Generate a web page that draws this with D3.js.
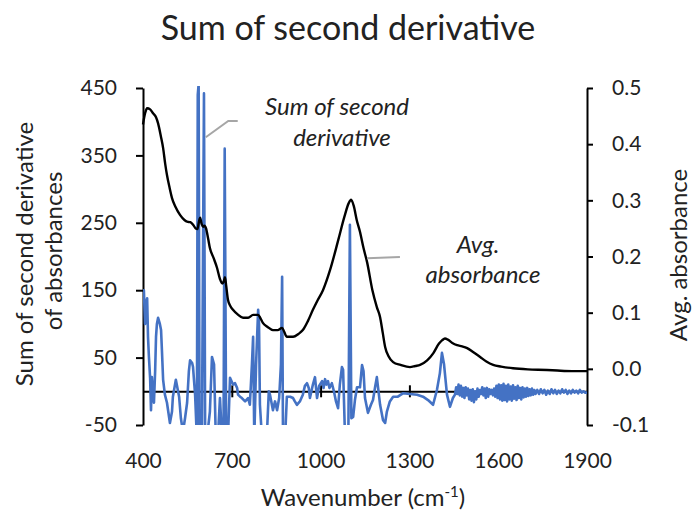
<!DOCTYPE html>
<html>
<head>
<meta charset="utf-8">
<script src="https://cdn.jsdelivr.net/npm/d3@7"></script>
<style>
  body { margin: 0; background: #fff; }
  svg text { font-family: Lato, "Open Sans", sans-serif; fill: #222; }
</style>
</head>
<body>
<svg id="chart" width="693" height="516"></svg>
<script>
// wavenumber ticks and axis ticks
const xTicks      = [400, 700, 1000, 1300, 1600, 1900]
const crossTicks  = [700, 1000, 1300, 1600]
const leftTicks   = [-50, 50, 150, 250, 350, 450]
const rightTicks  = [-0.1, 0, 0.1, 0.2, 0.3, 0.4, 0.5]

// sum of second derivative [wavenumber, value] (left axis)
const sumSecondDerivative = [
  [400,140],[403,150],[407,100],[410,130],[414,138],[417,80],[420,51],[424,20],[427,-28],[430,21],
  [434,-5],[437,-17],[441,30],[444,81],[447,100],[451,109],[457,100],[461,91],[464,60],[468,17],
  [474,-5],[481,-17],[491,-47],[498,-30],[501,-8],[511,17],[522,-8],[528,-40],[535,-60],[542,-40],
  [549,-17],[555,30],[559,46],[566,42],[569,36],[576,-5],[582,-70],[585,440],[588,456],[591,-70],
  [599,-70],[606,442],[610,-70],[616,-70],[626,-30],[633,51],[640,40],[646,-70],[653,-70],[660,-10],
  [667,-70],[672,-70],[676,360],[681,-70],[687,-70],[694,20],[704,10],[711,12],[718,5],[721,-5],
  [728,-8],[734,-10],[745,-15],[755,-10],[761,-20],[768,40],[772,81],[776,-70],[782,40],[789,121],
  [792,100],[795,-20],[802,-70],[812,-60],[819,-60],[825,0],[829,-5],[839,-28],[846,-15],[853,-28],
  [860,-10],[866,40],[870,170],[873,-70],[880,-70],[886,-8],[897,-8],[907,-10],[913,-15],[920,-20],
  [930,-15],[940,-5],[947,8],[954,12],[960,5],[964,-10],[974,10],[981,21],[988,-10],[995,8],
  [1005,15],[1010,5],[1015,18],[1020,10],[1025,15],[1030,5],[1038,12],[1045,0],[1052,-15],[1059,-25],
  [1065,10],[1072,36],[1076,32],[1082,-60],[1089,-70],[1094,-50],[1099,247],[1104,-40],[1110,-38],[1116,-13],
  [1123,6],[1133,6],[1140,39],[1145,30],[1150,-10],[1160,-32],[1170,-20],[1177,-13],[1184,6],[1190,21],
  [1201,-20],[1211,-43],[1218,-47],[1224,-30],[1234,-15],[1245,-8],[1261,-8],[1278,-3],[1302,-4],[1326,-5],
  [1346,-8],[1363,-13],[1380,-20],[1393,2],[1403,27],[1410,57],[1417,40],[1427,-5],[1437,-23],[1447,-10],
  [1454,-5],[1458,6],[1462,-4],[1466,10],[1470,-6],[1474,8],[1478,-8],[1482,5],[1486,-10],[1490,6],
  [1494,-6],[1498,4],[1502,-12],[1506,2],[1510,-14],[1514,3],[1518,-16],[1522,0],[1526,-12],[1530,4],
  [1534,-8],[1538,2],[1542,-4],[1546,6],[1550,-6],[1554,4],[1558,-10],[1562,5],[1566,-8],[1570,3],
  [1574,-4],[1578,2],[1582,-6],[1586,4],[1590,-8],[1594,8],[1598,-10],[1602,10],[1606,-12],[1610,9],
  [1614,-14],[1618,11],[1622,-13],[1626,8],[1630,-15],[1634,10],[1638,-12],[1642,7],[1646,-14],[1650,9],
  [1654,-11],[1658,6],[1662,-13],[1666,8],[1670,-10],[1674,5],[1678,-12],[1682,6],[1686,-9],[1690,4],
  [1694,-8],[1698,5],[1702,-7],[1706,3],[1710,-6],[1714,4],[1718,-5],[1722,2],[1726,-4],[1732,2],
  [1738,-4],[1744,3],[1750,-3],[1756,2],[1762,-5],[1768,1],[1774,-4],[1780,3],[1786,-3],[1792,2],
  [1798,-4],[1804,1],[1810,-3],[1816,3],[1822,-2],[1828,2],[1834,-4],[1840,1],[1846,-3],[1852,2],
  [1858,-2],[1864,1],[1870,-3],[1876,2],[1882,-2],[1888,0],[1894,-2],[1900,-2]
]

// average absorbance [wavenumber, value] (right axis)
const avgAbsorbance = [
  [400,0.435],[407,0.455],[414,0.464],[424,0.462],[434,0.455],[444,0.448],[451,0.437],[460,0.415],[468,0.393],[475,0.365],
  [481,0.345],[490,0.322],[498,0.304],[510,0.288],[525,0.274],[540,0.265],[549,0.262],[560,0.261],[570,0.256],[578,0.250],
  [584,0.249],[589,0.262],[593,0.269],[598,0.258],[603,0.253],[608,0.255],[613,0.250],[620,0.232],[626,0.215],[638,0.198],
  [650,0.180],[660,0.160],[668,0.152],[673,0.156],[677,0.163],[681,0.148],[687,0.123],[695,0.112],[704,0.105],[720,0.097],
  [738,0.091],[755,0.091],[772,0.096],[789,0.096],[797,0.090],[805,0.082],[820,0.075],[839,0.069],[855,0.069],[870,0.073],
  [877,0.066],[886,0.057],[907,0.057],[925,0.062],[940,0.069],[957,0.085],[974,0.105],[990,0.122],[1008,0.140],[1032,0.176],
  [1060,0.230],[1080,0.270],[1095,0.295],[1103,0.301],[1112,0.290],[1122,0.265],[1133,0.244],[1145,0.215],[1157,0.190],[1175,0.140],
  [1190,0.110],[1201,0.092],[1210,0.064],[1218,0.039],[1230,0.022],[1245,0.012],[1270,0.007],[1302,0.003],[1320,0.005],[1336,0.007],
  [1360,0.015],[1381,0.028],[1400,0.045],[1411,0.051],[1420,0.054],[1430,0.052],[1445,0.046],[1461,0.042],[1478,0.040],[1495,0.037],
  [1515,0.030],[1539,0.021],[1560,0.013],[1583,0.007],[1610,0.004],[1650,0.001],[1700,-0.001],[1765,-0.002],[1800,-0.003],[1850,-0.004],
  [1900,-0.004]
]

const
  svg         = d3.select('#chart'),
  plotLeft    = 143,
  plotRight   = 587,
  plotTop     = 88,
  plotBottom  = 425,
  blue        = '#4472C4',
  grey        = '#A6A6A6'

const
  xScale  = d3.scaleLinear().domain([400, 1900]).range([plotLeft, plotRight]),
  yLeft   = d3.scaleLinear().domain([-50, 450]).range([plotBottom, plotTop]),
  yRight  = d3.scaleLinear().domain([-0.1, 0.5]).range([plotBottom, plotTop])

svg.append('defs').append('clipPath').attr('id', 'plot')
  .append('rect')
  .attr('x', plotLeft).attr('y', plotTop - 2)
  .attr('width', plotRight - plotLeft).attr('height', plotBottom - plotTop + 2)

function styleAxis(g, size)
{
  g.selectAll('path, line').attr('stroke', '#000').attr('stroke-width', 2)
  g.selectAll('text').style('font-size', size + 'px').attr('fill', '#222')
}

// x labels (bottom)
svg.append('g')
  .attr('transform', `translate(0,${plotBottom})`)
  .call(d3.axisBottom(xScale).tickValues(xTicks).tickSize(0).tickPadding(28).tickFormat(d => String(d)))
  .call(g => g.select('.domain').remove())
  .call(g => styleAxis(g, 21))

// horizontal zero line with cross ticks
const zeroY = yLeft(0)
svg.append('g')
  .attr('transform', `translate(0,${zeroY})`)
  .call(d3.axisBottom(xScale).tickValues(crossTicks).tickSize(6).tickSizeOuter(0).tickFormat(''))
  .call(g => styleAxis(g, 21))
svg.append('g')
  .attr('transform', `translate(0,${zeroY})`)
  .call(d3.axisTop(xScale).tickValues(crossTicks).tickSize(6).tickSizeOuter(0).tickFormat(''))
  .call(g => g.select('.domain').remove())
  .call(g => styleAxis(g, 21))

// left axis
svg.append('g')
  .attr('transform', `translate(${plotLeft},0)`)
  .call(d3.axisLeft(yLeft).tickValues(leftTicks).tickSize(7).tickSizeOuter(0).tickPadding(19).tickFormat(d => String(d)))
  .call(g => styleAxis(g, 21))

// right axis
svg.append('g')
  .attr('transform', `translate(${plotRight},0)`)
  .call(d3.axisRight(yRight).tickValues(rightTicks).tickSize(6).tickSizeOuter(0).tickPadding(19).tickFormat(d => d.toFixed(1)))
  .call(g => styleAxis(g, 21))

// series
const blueLine = d3.line()
  .x(d => xScale(d[0]))
  .y(d => yLeft(d[1]))

svg.append('path')
  .datum(sumSecondDerivative)
  .attr('clip-path', 'url(#plot)')
  .attr('d', blueLine)
  .attr('fill', 'none')
  .attr('stroke', blue)
  .attr('stroke-width', 2.6)
  .attr('stroke-linejoin', 'round')

const blackLine = d3.line()
  .x(d => xScale(d[0]))
  .y(d => yRight(d[1]))
  .curve(d3.curveMonotoneX)

svg.append('path')
  .datum(avgAbsorbance)
  .attr('d', blackLine)
  .attr('fill', 'none')
  .attr('stroke', '#000')
  .attr('stroke-width', 2.4)

// leader lines for the series labels
svg.append('path')
  .attr('d', d3.line()([[xScale(612), yLeft(377)], [xScale(688), yLeft(401)], [xScale(720), yLeft(401)]]))
  .attr('fill', 'none').attr('stroke', grey).attr('stroke-width', 2)

svg.append('path')
  .attr('d', d3.line()([[xScale(1157), yRight(0.197)], [xScale(1268), yRight(0.199)]]))
  .attr('fill', 'none').attr('stroke', grey).attr('stroke-width', 2)

// series labels
const seriesLabel = svg.append('g')
  .style('font-style', 'italic')
  .style('font-size', '24px')
  .attr('text-anchor', 'middle')

seriesLabel.append('text').attr('x', 337).attr('y', 115).text('Sum of second')
seriesLabel.append('text').attr('x', 342).attr('y', 146).text('derivative')
seriesLabel.append('text').attr('x', 478).attr('y', 253).text('Avg.')
seriesLabel.append('text').attr('x', 483).attr('y', 283).text('absorbance')

// titles
svg.append('text')
  .attr('x', 348).attr('y', 40)
  .attr('text-anchor', 'middle')
  .style('font-size', '34px')
  .attr('fill', '#111')
  .text('Sum of second derivative')

const xTitle = svg.append('text')
  .attr('x', 363).attr('y', 506)
  .attr('text-anchor', 'middle')
  .style('font-size', '24px')
xTitle.append('tspan').text('Wavenumber (cm')
xTitle.append('tspan').attr('dy', -9).style('font-size', '15px').text('-1')
xTitle.append('tspan').attr('dy', 9).text(')')

svg.append('text')
  .attr('transform', 'translate(33,254) rotate(-90)')
  .attr('text-anchor', 'middle')
  .style('font-size', '24px')
  .text('Sum of second derivative')

svg.append('text')
  .attr('transform', 'translate(62,251) rotate(-90)')
  .attr('text-anchor', 'middle')
  .style('font-size', '24px')
  .text('of absorbances')

svg.append('text')
  .attr('transform', 'translate(687,255) rotate(-90)')
  .attr('text-anchor', 'middle')
  .style('font-size', '24px')
  .text('Avg. absorbance')
</script>
</body>
</html>
